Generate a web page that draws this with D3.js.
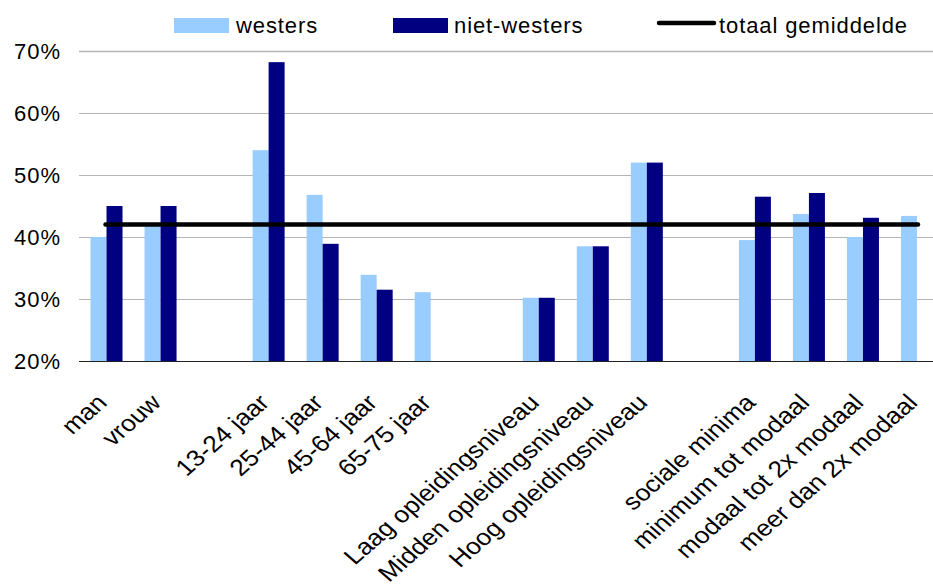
<!DOCTYPE html>
<html>
<head>
<meta charset="utf-8">
<script src="https://cdn.jsdelivr.net/npm/d3@7"></script>
<style>
  html, body { margin: 0; padding: 0; background: #fff; }
  svg { display: block; font-family: "Liberation Sans", Arial, sans-serif; }
</style>
</head>
<body>
<script>
// Categories (null = empty spacer slot)
const categories = ["man", "vrouw", null, "13-24 jaar", "25-44 jaar", "45-64 jaar", "65-75 jaar", null,
  "Laag opleidingsniveau", "Midden opleidingsniveau", "Hoog opleidingsniveau", null,
  "sociale minima", "minimum tot modaal", "modaal tot 2x modaal", "meer dan 2x modaal"];
const westers = [0.40, 0.42, null, 0.54, 0.468, 0.339, 0.311, null, 0.302, 0.385, 0.52, null, 0.395, 0.437, 0.40, 0.434];
const nietWesters = [0.45, 0.45, null, 0.682, 0.389, 0.315, null, null, 0.302, 0.385, 0.52, null, 0.465, 0.471, 0.431, null];
const totaalGemiddelde = 0.42;
const yTicks = [0.2, 0.3, 0.4, 0.5, 0.6, 0.7];
const seriesNames = ["westers", "niet-westers", "totaal gemiddelde"];
const colors = ["#99CCFF", "#000080", "#000000"];

const W = 933, H = 587;
const svg = d3.select("body").append("svg").attr("width", W).attr("height", H);

const x = d3.scaleBand().domain(d3.range(categories.length)).range([79.5, 944]).paddingInner(0).paddingOuter(0);
const y = d3.scaleLinear().domain([0.2, 0.7]).range([361, 51]);
const bw = 16;

// gridlines
svg.append("g").selectAll("line").data(yTicks.filter(t => t > 0.2)).join("line")
  .attr("x1", 79).attr("x2", W)
  .attr("y1", d => Math.round(y(d)) + 0.5).attr("y2", d => Math.round(y(d)) + 0.5)
  .attr("stroke", "#b4b4b4").attr("stroke-width", d => d === 0.7 ? 1.4 : 1);

// y labels
const fmt = d3.format(".0%");
svg.append("g").selectAll("text").data(yTicks).join("text")
  .attr("x", 61).attr("y", d => y(d)).attr("dy", "0.36em")
  .attr("text-anchor", "end").attr("font-size", 22).attr("letter-spacing", 1).attr("fill", "#000")
  .text(d => fmt(d));

// bars
const idx = d3.range(categories.length);
svg.append("g").selectAll("rect").data(idx.filter(i => westers[i] != null)).join("rect")
  .attr("x", i => x(i) + x.bandwidth() / 2 - bw)
  .attr("width", bw)
  .attr("y", i => y(westers[i]))
  .attr("height", i => y(0.2) - y(westers[i]))
  .attr("fill", colors[0]);
svg.append("g").selectAll("rect").data(idx.filter(i => nietWesters[i] != null)).join("rect")
  .attr("x", i => x(i) + x.bandwidth() / 2)
  .attr("width", bw)
  .attr("y", i => y(nietWesters[i]))
  .attr("height", i => y(0.2) - y(nietWesters[i]))
  .attr("fill", colors[1]);

// x axis line
svg.append("line").attr("x1", 79).attr("x2", W)
  .attr("y1", Math.round(y(0.2)) + 0.5).attr("y2", Math.round(y(0.2)) + 0.5)
  .attr("stroke", "#222").attr("stroke-width", 1.2);

// average line
const first = 0, last = categories.length - 1;
svg.append("line")
  .attr("x1", x(first) + x.bandwidth() / 2 - 1)
  .attr("x2", x(last) + x.bandwidth() / 2 + 1)
  .attr("y1", y(totaalGemiddelde)).attr("y2", y(totaalGemiddelde))
  .attr("stroke", colors[2]).attr("stroke-width", 4.5).attr("stroke-linecap", "round");

// x labels (rotated, horizontally stretched like the reference)
svg.append("g").selectAll("text").data(idx.filter(i => categories[i] != null)).join("text")
  .attr("transform", i => `translate(${x(i) + x.bandwidth() / 2 + 2},404) scale(1.15,1) rotate(-45)`)
  .attr("text-anchor", "end").attr("font-size", 23).attr("fill", "#000")
  .text(i => categories[i]);

// legend
const leg = svg.append("g").attr("font-size", 22).attr("letter-spacing", 0.9);
leg.append("rect").attr("x", 174).attr("y", 18).attr("width", 55).attr("height", 15).attr("fill", colors[0]);
leg.append("text").attr("x", 236).attr("y", 33).text(seriesNames[0]);
leg.append("rect").attr("x", 393).attr("y", 18).attr("width", 55).attr("height", 15).attr("fill", colors[1]);
leg.append("text").attr("x", 454).attr("y", 33).text(seriesNames[1]);
leg.append("line").attr("x1", 659).attr("x2", 714).attr("y1", 23).attr("y2", 23)
  .attr("stroke", colors[2]).attr("stroke-width", 4.5).attr("stroke-linecap", "round");
leg.append("text").attr("x", 719).attr("y", 33).text(seriesNames[2]);
</script>
</body>
</html>
